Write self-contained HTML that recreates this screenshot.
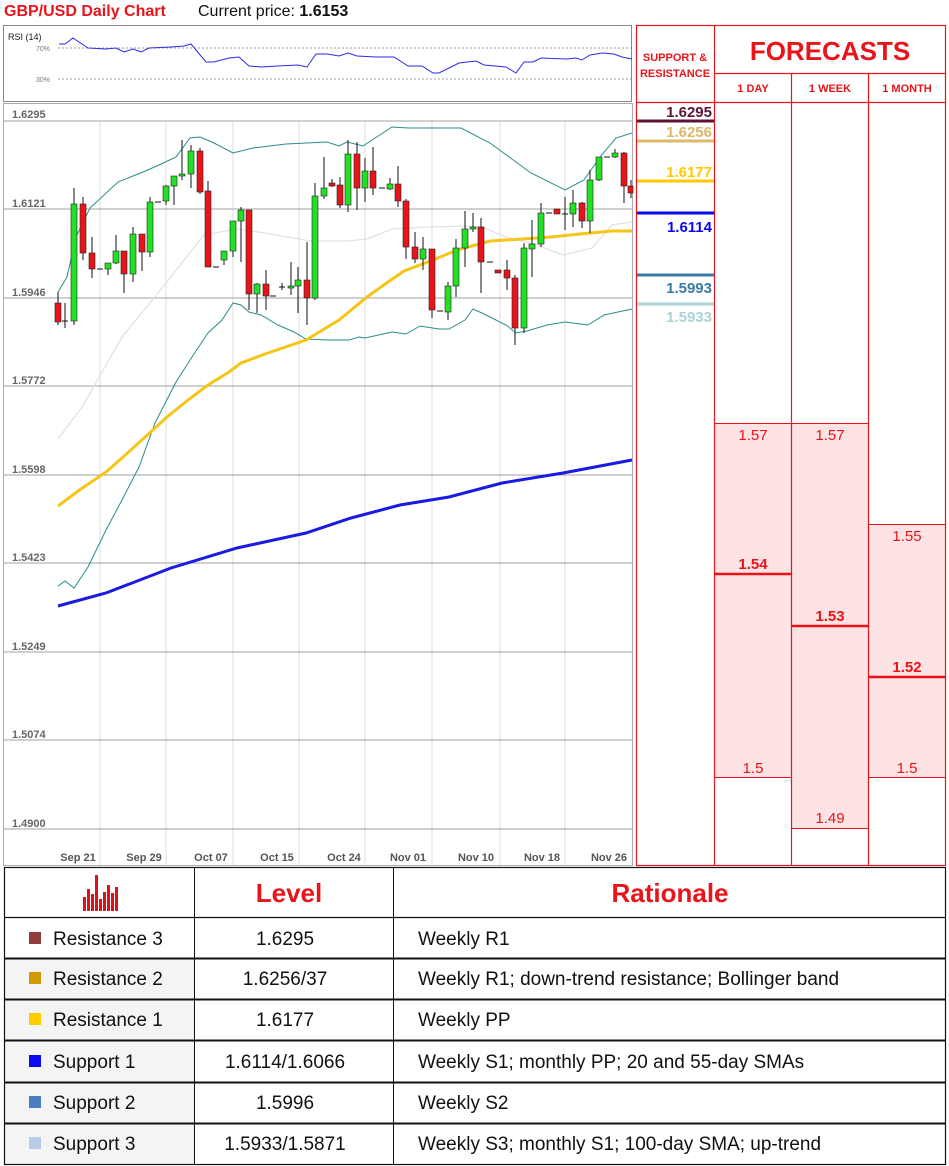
<!DOCTYPE html>
<html><head><meta charset="utf-8"><style>
body{margin:0;background:#fff;width:949px;height:1166px;overflow:hidden;font-family:"Liberation Sans",sans-serif}
svg{display:block}
</style></head><body>
<svg width="949" height="1166" xmlns="http://www.w3.org/2000/svg" font-family="Liberation Sans, sans-serif">
<rect width="949" height="1166" fill="#fff"/>
<text x="4" y="16" font-size="16" font-weight="bold" fill="#e8141a">GBP/USD Daily Chart</text>
<text x="198" y="16" font-size="16" fill="#111">Current price: <tspan font-weight="bold">1.6153</tspan></text>
<!-- RSI -->
<rect x="3.5" y="25.5" width="628" height="76" fill="#fff" stroke="#888"/>
<text x="8" y="40" font-size="9" fill="#222">RSI (14)</text>
<text x="36" y="51" font-size="7" fill="#777">70%</text>
<text x="36" y="82" font-size="7" fill="#777">30%</text>
<line x1="58" y1="48" x2="632" y2="48" stroke="#777" stroke-dasharray="2,2" stroke-width="0.8"/>
<line x1="58" y1="79" x2="632" y2="79" stroke="#777" stroke-dasharray="2,2" stroke-width="0.8"/>
<polyline fill="none" stroke="#2a2aee" stroke-width="1" points="59,44 65,44 73,38 88,48 106,49 116,48 124,52 133,49 141,52 149,48 171,47 184,46 191,44 206,62 214,62 229,58 239,57 249,66 261,67 278,66 298,65 307,67 316,54 327,54 339,56 348,53 357,56 376,57 394,57 408,66 422,66 433,73 439,73 459,63 476,61 484,65 506,67 516,73 524,62 533,62 541,58 567,59 576,58 582,60 590,55 602,53 614,54 622,57 632,59"/>
<!-- main chart -->
<rect x="3.5" y="103.5" width="629" height="762" fill="#fff" stroke="#aaa"/>
<g stroke="#ddd" stroke-width="1">
<line x1="100" y1="121" x2="100" y2="865"/><line x1="166" y1="121" x2="166" y2="865"/><line x1="233" y1="121" x2="233" y2="865"/><line x1="299" y1="121" x2="299" y2="865"/><line x1="365" y1="121" x2="365" y2="865"/><line x1="432" y1="121" x2="432" y2="865"/><line x1="500" y1="121" x2="500" y2="865"/><line x1="565" y1="121" x2="565" y2="865"/>
</g>
<g stroke="#a0a0a0" stroke-width="1">
<line x1="4" y1="121" x2="632" y2="121"/><line x1="4" y1="209" x2="632" y2="209"/><line x1="4" y1="298" x2="632" y2="298"/><line x1="4" y1="386" x2="632" y2="386"/><line x1="4" y1="475" x2="632" y2="475"/><line x1="4" y1="563" x2="632" y2="563"/><line x1="4" y1="652" x2="632" y2="652"/><line x1="4" y1="740" x2="632" y2="740"/><line x1="4" y1="829" x2="632" y2="829"/>
</g>
<g font-size="11" fill="#666" font-weight="bold">
<text x="12" y="118">1.6295</text><text x="12" y="207">1.6121</text><text x="12" y="296">1.5946</text><text x="12" y="384">1.5772</text><text x="12" y="473">1.5598</text><text x="12" y="561">1.5423</text><text x="12" y="650">1.5249</text><text x="12" y="738">1.5074</text><text x="12" y="827">1.4900</text>
</g>
<g font-size="11" fill="#555" font-weight="bold" text-anchor="middle">
<text x="78" y="861">Sep 21</text><text x="144" y="861">Sep 29</text><text x="211" y="861">Oct 07</text><text x="277" y="861">Oct 15</text><text x="344" y="861">Oct 24</text><text x="408" y="861">Nov 01</text><text x="476" y="861">Nov 10</text><text x="542" y="861">Nov 18</text><text x="609" y="861">Nov 26</text>
</g>
<!-- indicators -->
<polyline fill="none" stroke="#e2e2e2" stroke-width="1.3" points="58,439 82,407 122,337 163,287 192,250 204,235 220,232 237,229 265,233 310,241 347,241 367,239 392,229 429,227 465,226 482,227 506,237 531,243 563,255 592,248 612,225 632,222"/>
<polyline fill="none" stroke="#2b8c8c" stroke-width="1" points="58,292 67,277 76,237 90,208 118,182 143,172 159,165 176,157 190,138 200,137 212,142 233,153 253,148 286,144 327,142 339,146 347,142 363,146 392,127 408,128 437,128 461,128 490,143 531,173 565,190 584,180 600,157 616,138 632,133"/>
<polyline fill="none" stroke="#2b8c8c" stroke-width="1" points="58,586 65,581 74,588 88,567 106,530 122,500 139,467 155,423 176,382 192,357 208,333 222,320 233,303 241,305 249,312 261,315 278,325 294,332 306,339 327,340 349,340 359,337 365,338 392,332 406,334 420,326 439,329 449,329 465,320 473,309 482,313 506,325 516,333 527,331 547,325 565,322 588,325 604,315 632,309"/>
<polyline fill="none" stroke="#f5c518" stroke-width="3" points="58,506 78,491 106,472 122,458 143,439 167,417 188,400 208,385 229,372 241,363 265,354 306,340 339,320 367,297 388,282 404,271 433,260 457,250 490,241 522,239 551,237 580,234 612,231 632,231"/>
<polyline fill="none" stroke="#1a1ae0" stroke-width="3" points="58,606 106,593 171,568 237,548 306,533 351,518 400,505 449,497 502,483 563,473 632,460"/>
<!-- candles -->
<path fill="none" stroke="#111" stroke-width="1" d="M58 292V325M65 303V328M74 188V325M83 197V260M92 237V278M108 263V275M116 235V264M124 251V293M133 227V282M142 234V271M150 197V257M166 185V205M174 176V205M182 140V180M191 145V188M200 148V194M208 181V267M224 251V265M233 221V257M241 207V262M249 210V310M257 283V313M266 270V310M282 283V290M291 262V295M298 267V313M307 242V325M315 183V300M324 157V199M332 179V187M340 177V208M348 140V212M357 142V210M365 158V202M373 147V195M390 178V190M398 166V207M406 199V259M415 232V263M423 237V270M432 249V318M448 282V320M456 239V297M465 211V267M473 213V232M481 218V293M507 260V290M515 275V345M524 243V333M532 220V277M541 203V247M565 197V230M573 190V227M582 202V228M590 170V233M599 157V181M615 149V158M624 152V203M631 180V198
M62 321H68M97 269H103M155 202H161M213 267H219M270 296H276M279 287H285M437 311H443M487 262H493M546 213H552M562 214H568M604 157H610M379 188H385"/>
<g stroke="#222" stroke-width="0.6">
<g fill="#e8141a">
<rect x="55" y="303" width="6" height="19"/><rect x="80" y="204" width="6" height="49"/><rect x="89" y="253" width="6" height="16"/><rect x="121" y="251" width="6" height="23"/><rect x="139" y="234" width="6" height="18"/><rect x="197" y="151" width="6" height="41"/><rect x="205" y="191" width="6" height="76"/><rect x="246" y="210" width="6" height="84"/><rect x="263" y="284" width="6" height="12"/><rect x="304" y="280" width="6" height="18"/><rect x="329" y="183" width="6" height="3"/><rect x="337" y="185" width="6" height="20"/><rect x="354" y="154" width="6" height="34"/><rect x="370" y="171" width="6" height="17"/><rect x="395" y="184" width="6" height="17"/><rect x="403" y="201" width="6" height="46"/><rect x="412" y="247" width="6" height="12"/><rect x="429" y="249" width="6" height="61"/><rect x="478" y="227" width="6" height="35"/><rect x="495" y="270" width="6" height="3"/><rect x="504" y="270" width="6" height="8"/><rect x="512" y="278" width="6" height="50"/><rect x="554" y="209" width="6" height="5"/><rect x="579" y="203" width="6" height="18"/><rect x="621" y="153" width="6" height="33"/><rect x="628" y="186" width="5" height="7"/>
</g>
<g fill="#22e022">
<rect x="71" y="204" width="6" height="117"/><rect x="105" y="263" width="6" height="6"/><rect x="113" y="251" width="6" height="12"/><rect x="130" y="234" width="6" height="40"/><rect x="147" y="202" width="6" height="50"/><rect x="163" y="186" width="6" height="15"/><rect x="171" y="176" width="6" height="10"/><rect x="179" y="174" width="6" height="2"/><rect x="188" y="151" width="6" height="23"/><rect x="221" y="251" width="6" height="9"/><rect x="230" y="221" width="6" height="30"/><rect x="238" y="210" width="6" height="11"/><rect x="254" y="284" width="6" height="10"/><rect x="288" y="286" width="6" height="2"/><rect x="295" y="280" width="6" height="6"/><rect x="312" y="196" width="6" height="102"/><rect x="321" y="188" width="6" height="8"/><rect x="345" y="154" width="6" height="51"/><rect x="362" y="171" width="6" height="17"/><rect x="387" y="184" width="6" height="5"/><rect x="420" y="249" width="6" height="10"/><rect x="445" y="286" width="6" height="26"/><rect x="453" y="248" width="6" height="38"/><rect x="462" y="229" width="6" height="19"/><rect x="470" y="227" width="6" height="2"/><rect x="521" y="248" width="6" height="80"/><rect x="529" y="244" width="6" height="5"/><rect x="538" y="213" width="6" height="31"/><rect x="570" y="203" width="6" height="11"/><rect x="587" y="180" width="6" height="41"/><rect x="596" y="157" width="6" height="23"/><rect x="612" y="153" width="6" height="4"/>
</g>
</g>
<!-- right panel -->
<g fill="#fde3e3" stroke="#e8141a" stroke-width="1">
<rect x="714.5" y="423.5" width="77" height="354"/>
<rect x="791.5" y="423.5" width="77" height="405"/>
<rect x="868.5" y="524.5" width="77" height="253"/>
</g>
<g stroke="#e8141a" stroke-width="1.2" fill="none">
<rect x="636.5" y="25.5" width="309" height="840"/>
<line x1="714.5" y1="25" x2="714.5" y2="866"/>
<line x1="714" y1="73.5" x2="946" y2="73.5"/>
<line x1="636" y1="102.5" x2="946" y2="102.5"/>
<line x1="791.5" y1="73" x2="791.5" y2="866"/>
<line x1="868.5" y1="73" x2="868.5" y2="866"/>
</g>
<g stroke="#e8141a" stroke-width="2.5">
<line x1="715" y1="574" x2="791" y2="574"/><line x1="792" y1="626" x2="868" y2="626"/><line x1="869" y1="677" x2="945" y2="677"/>
</g>
<text x="675" y="61" font-size="11" font-weight="bold" fill="#e8141a" text-anchor="middle">SUPPORT &amp;</text>
<text x="675" y="77" font-size="11" font-weight="bold" fill="#e8141a" text-anchor="middle">RESISTANCE</text>
<text x="830" y="60" font-size="26" font-weight="bold" fill="#e8141a" text-anchor="middle">FORECASTS</text>
<g font-size="11" font-weight="bold" fill="#e8141a" text-anchor="middle">
<text x="753" y="92">1 DAY</text><text x="830" y="92">1 WEEK</text><text x="907" y="92">1 MONTH</text>
</g>
<g stroke-width="3">
<line x1="637" y1="121" x2="714" y2="121" stroke="#5a1438"/>
<line x1="637" y1="141" x2="714" y2="141" stroke="#dcb868"/>
<line x1="637" y1="181" x2="714" y2="181" stroke="#ffc800"/>
<line x1="637" y1="213" x2="714" y2="213" stroke="#0a0aee"/>
<line x1="637" y1="275" x2="714" y2="275" stroke="#3a7ca5"/>
<line x1="637" y1="304" x2="714" y2="304" stroke="#acd4d4"/>
</g>
<g font-size="15" font-weight="bold" text-anchor="end">
<text x="712" y="117" fill="#5a1438">1.6295</text>
<text x="712" y="137" fill="#dcb868">1.6256</text>
<text x="712" y="177" fill="#ffc800">1.6177</text>
<text x="712" y="232" fill="#0a0aee">1.6114</text>
<text x="712" y="293" fill="#3a7ca5">1.5993</text>
<text x="712" y="322" fill="#acd4d4">1.5933</text>
</g>
<g font-size="15" fill="#e8141a" text-anchor="middle">
<text x="753" y="440">1.57</text><text x="830" y="440">1.57</text><text x="907" y="541">1.55</text>
<text x="753" y="569" font-weight="bold">1.54</text><text x="830" y="621" font-weight="bold">1.53</text><text x="907" y="672" font-weight="bold">1.52</text>
<text x="753" y="773">1.5</text><text x="830" y="823">1.49</text><text x="907" y="773">1.5</text>
</g>
<!-- table -->
<rect x="4" y="959" width="190" height="206" fill="#f4f4f4"/>
<g stroke="#111" fill="none">
<rect x="4.5" y="867.5" width="941" height="297" stroke-width="1.2"/>
<line x1="4" y1="917.5" x2="946" y2="917.5" stroke-width="1.2"/>
<line x1="4" y1="958.5" x2="946" y2="958.5" stroke-width="2"/>
<line x1="4" y1="999.5" x2="946" y2="999.5" stroke-width="2"/>
<line x1="4" y1="1040.5" x2="946" y2="1040.5" stroke-width="2"/>
<line x1="4" y1="1082.5" x2="946" y2="1082.5" stroke-width="2"/>
<line x1="4" y1="1123.5" x2="946" y2="1123.5" stroke-width="2"/>
<line x1="194.5" y1="867" x2="194.5" y2="1165"/>
<line x1="393.5" y1="867" x2="393.5" y2="1165"/>
</g>
<g fill="#d8141a">
<rect x="83" y="897" width="3" height="14"/><rect x="87" y="889" width="3" height="22"/><rect x="91" y="894" width="3" height="17"/><rect x="95" y="875" width="3" height="36"/><rect x="99" y="899" width="3" height="12"/><rect x="103" y="892" width="3" height="19"/><rect x="107" y="885" width="3" height="26"/><rect x="111" y="893" width="3" height="18"/><rect x="115" y="887" width="3" height="24"/>
</g>
<text x="289" y="902" font-size="26" font-weight="bold" fill="#e8141a" text-anchor="middle">Level</text>
<text x="670" y="902" font-size="26" font-weight="bold" fill="#e8141a" text-anchor="middle">Rationale</text>
<rect x="29" y="932" width="12" height="12" fill="#933a3a"/>
<rect x="29" y="972" width="12" height="12" fill="#d09a00"/>
<rect x="29" y="1013" width="12" height="12" fill="#ffcc00"/>
<rect x="29" y="1055" width="12" height="12" fill="#0a0aee"/>
<rect x="29" y="1096" width="12" height="12" fill="#4a7ec0"/>
<rect x="29" y="1137" width="12" height="12" fill="#b8cce6"/>
<g font-size="19" fill="#111">
<text x="53" y="945">Resistance 3</text><text x="53" y="985">Resistance 2</text><text x="53" y="1026">Resistance 1</text><text x="53" y="1068">Support 1</text><text x="53" y="1109">Support 2</text><text x="53" y="1150">Support 3</text>
<g text-anchor="middle"><text x="285" y="945">1.6295</text><text x="285" y="985">1.6256/37</text><text x="285" y="1026">1.6177</text><text x="285" y="1068">1.6114/1.6066</text><text x="285" y="1109">1.5996</text><text x="285" y="1150">1.5933/1.5871</text></g>
<text x="418" y="945">Weekly R1</text><text x="418" y="985">Weekly R1; down-trend resistance; Bollinger band</text><text x="418" y="1026">Weekly PP</text><text x="418" y="1068">Weekly S1; monthly PP; 20 and 55-day SMAs</text><text x="418" y="1109">Weekly S2</text><text x="418" y="1150">Weekly S3; monthly S1; 100-day SMA; up-trend</text>
</g>
</svg>
</body></html>
